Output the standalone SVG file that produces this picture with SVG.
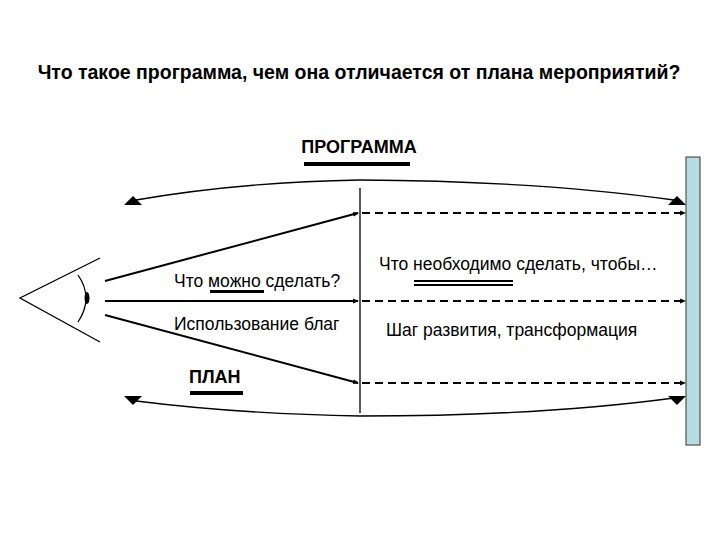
<svg xmlns="http://www.w3.org/2000/svg" width="720" height="540" viewBox="0 0 720 540">
<defs>
<style>
text{font-family:"Liberation Sans",Arial,sans-serif;fill:#000}
.t{font-size:17.5px}
.b{font-weight:bold}
.ln{stroke:#000;fill:none;stroke-width:2}
.th{stroke:#000;fill:none;stroke-width:1.3}
.d{stroke:#000;fill:none;stroke-width:2;stroke-dasharray:8,5}
.tri{fill:#000}
</style>
<marker id="s" markerWidth="6" markerHeight="6" refX="5" refY="3" orient="auto" markerUnits="userSpaceOnUse"><path d="M0,0.5 L6,3 L0,5.5Z" fill="#000"/></marker>
</defs>
<rect width="720" height="540" fill="#fff"/>
<text x="359" y="79" text-anchor="middle" class="b" font-size="19.5">Что такое программа, чем она отличается от плана мероприятий?</text>
<g id="screen"><rect x="686" y="157" width="14" height="288" fill="#b7dde3" stroke="#333" stroke-width="1"/></g>
<g id="eye">
<path class="th" d="M100,258 L20,298 L100,342"/>
<path class="th" d="M78,275 Q94,298 78,322"/>
<ellipse cx="87" cy="298" rx="2.5" ry="6" fill="#000"/>
</g>
<g id="programma">
<text x="359" y="153" text-anchor="middle" class="b" font-size="18">ПРОГРАММА</text>
<rect x="304" y="162" width="106" height="4" fill="#000"/>
</g>
<g id="plan">
<text x="189" y="383" class="b" font-size="18">ПЛАН</text>
<rect x="190" y="391" width="53" height="4" fill="#000"/>
</g>
<g id="labels">
<text x="174" y="287" class="t">Что можно сделать?</text>
<rect x="210" y="290" width="54" height="3" fill="#000"/>
<text x="174" y="330" class="t">Использование благ</text>
<text x="379" y="270" class="t">Что необходимо сделать, чтобы…</text>
<rect x="414" y="280" width="99" height="2" fill="#000"/>
<rect x="414" y="284" width="99" height="2" fill="#000"/>
<text x="386" y="336" class="t">Шаг развития, трансформация</text>
</g>
<g id="connectors">
<line x1="360" y1="188" x2="360" y2="413" stroke="#000" stroke-width="1.3"/>
<path class="th" d="M360,180 Q240,182 136,200"/>
<path class="th" d="M360,180 Q540,181 674,200"/>
<path class="th" d="M360,416 Q240,414 136,401"/>
<path class="th" d="M360,416 Q540,416 674,398"/>
<polygon class="tri" points="133,196 124,205 142,205"/>
<polygon class="tri" points="677,196 668,205 686,205"/>
<polygon class="tri" points="133,405 124,396 142,396"/>
<polygon class="tri" points="677,405 668,396 686,396"/>
<line class="ln" x1="105" y1="281" x2="358" y2="213" marker-end="url(#s)"/>
<line class="ln" x1="105" y1="301" x2="358" y2="301" marker-end="url(#s)"/>
<line class="ln" x1="105" y1="315" x2="358" y2="383" marker-end="url(#s)"/>
<line class="d" x1="362" y1="213" x2="685" y2="213" marker-end="url(#s)"/>
<line class="d" x1="362" y1="301" x2="685" y2="301" marker-end="url(#s)"/>
<line class="d" x1="362" y1="383" x2="685" y2="383" marker-end="url(#s)"/>
</g>
</svg>
